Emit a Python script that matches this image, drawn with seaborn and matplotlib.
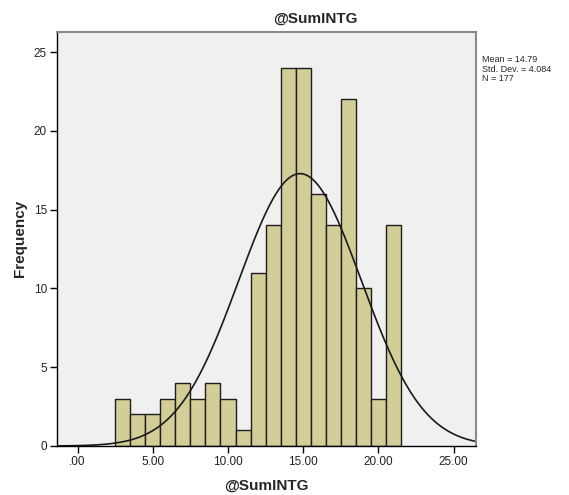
import numpy as np
import pandas as pd
import seaborn as sns
import matplotlib
matplotlib.use("Agg")
import matplotlib.pyplot as plt

# ---- data ----
values = [3, 4, 5, 6, 7, 8, 9, 10, 11, 12, 13, 14, 15, 16, 17, 18, 19, 20, 21]
counts = [3, 2, 2, 3, 4, 3, 4, 3, 1, 11, 14, 24, 24, 16, 14, 22, 10, 3, 14]
mean_val = 14.79
std_val = 4.084
n_val = 177
xticks = [0, 5, 10, 15, 20, 25]
xticklabels = [".00", "5.00", "10.00", "15.00", "20.00", "25.00"]
yticks = [0, 5, 10, 15, 20, 25]
yticklabels = ["0", "5", "10", "15", "20", "25"]
title = "@SumINTG"
xlabel = "@SumINTG"
ylabel = "Frequency"

sns.set_style("white")
plt.rcParams["font.family"] = ["Liberation Sans", "DejaVu Sans"]

W, H = 569, 495
fig = plt.figure(figsize=(W / 100, H / 100), dpi=100)
left, right, top, bottom = 56.7, 475.7, 31.7, 446.0
ax = fig.add_axes([left / W, 1 - bottom / H, (right - left) / W, (bottom - top) / H])
ax.set_facecolor("#f0f0f0")

df = pd.DataFrame({"value": values, "count": counts})
sns.histplot(data=df, x="value", weights="count", discrete=True,
             color="#d3ce97", edgecolor="#1e1e1e", linewidth=1.0, alpha=1.0, ax=ax)

xmin, xmax = -1.39, 26.47
xs = np.linspace(xmin, xmax, 400)
ys = n_val * 1.0 / (std_val * np.sqrt(2 * np.pi)) * np.exp(-0.5 * ((xs - mean_val) / std_val) ** 2)
sns.lineplot(x=xs, y=ys, color="#1a1a1a", linewidth=1.2, ax=ax)

ax.set_xlim(xmin, xmax)
ax.set_ylim(0, 26.3)
ax.set_xticks(xticks)
ax.set_xticklabels(xticklabels)
ax.set_yticks(yticks)
ax.set_yticklabels(yticklabels)
ax.tick_params(axis="both", direction="out", length=5, width=1, color="black",
               labelsize=8.5, labelcolor="#222222", pad=2, bottom=True, left=True)

for s in ["left", "bottom"]:
    ax.spines[s].set_color("black")
    ax.spines[s].set_linewidth(1.0)
for s in ["top", "right"]:
    ax.spines[s].set_color("#8a8a8a")
    ax.spines[s].set_linewidth(1.5)

ax.set_xlabel(xlabel, fontsize=11, fontweight="bold", labelpad=8)
ax.set_ylabel(ylabel, fontsize=11, fontweight="bold", labelpad=5)

fig.text(315 / W, 1 - 19 / H, title, ha="center", va="center",
         fontsize=11, fontweight="bold")
fig.text(482 / W, 1 - 55 / H,
         f"Mean = {mean_val:.2f}\nStd. Dev. = {std_val:.3f}\nN = {n_val}",
         ha="left", va="top", fontsize=6.5, linespacing=1.1)

fig.savefig("out.png", dpi=100, facecolor="white")
